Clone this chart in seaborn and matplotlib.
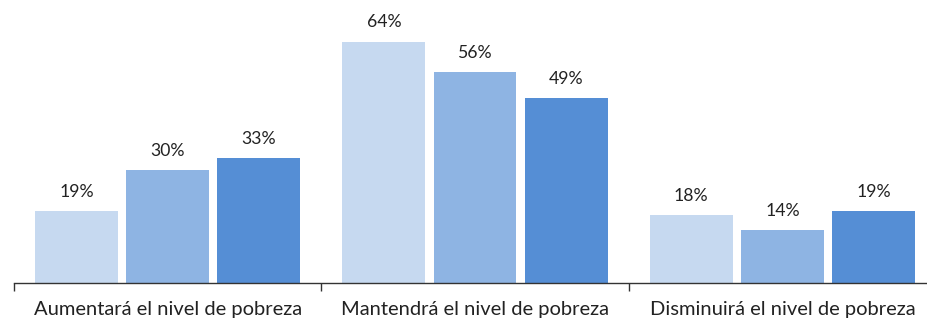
import pandas as pd
import matplotlib.pyplot as plt
import seaborn as sns

# datos del gráfico
categorias = ["Aumentará el nivel de pobreza", "Mantendrá el nivel de pobreza", "Disminuirá el nivel de pobreza"]
series = ["Serie 1", "Serie 2", "Serie 3"]
valores_s1 = [19, 64, 18]
valores_s2 = [30, 56, 14]
valores_s3 = [33, 49, 19]
colores = ["#C6D9F0", "#8EB4E3", "#558ED5"]

df = pd.DataFrame({
    "categoria": categorias * 3,
    "serie": [series[0]] * 3 + [series[1]] * 3 + [series[2]] * 3,
    "valor": valores_s1 + valores_s2 + valores_s3,
})

sns.set_theme(style="white")
plt.rcParams['font.family'] = ['Lato', 'DejaVu Sans']

fig = plt.figure(figsize=(9.28, 3.21), dpi=100)
# el eje se extiende un poco más allá del borde derecho, como en el original
ax = fig.add_axes([14 / 928, 38 / 321, 922 / 928, 1 - 38 / 321])

sns.barplot(data=df, x="categoria", y="valor", hue="serie", order=categorias,
            palette=colores, width=0.89, gap=0.09, legend=False, ax=ax,
            edgecolor="none", saturation=1)

for cont in ax.containers:
    ax.bar_label(cont, labels=[f"{v:.0f}%" for v in cont.datavalues],
                 padding=8, fontsize=12.7, color="#222222")

ax.set_ylim(0, 75)
ax.set_xlim(-0.5, 2.5)
ax.set_yticks([])
ax.set_xlabel("")
ax.set_ylabel("")
for s in ["top", "right", "left"]:
    ax.spines[s].set_visible(False)
ax.spines["bottom"].set_color("#333333")
ax.spines["bottom"].set_linewidth(1)

ax.set_xticks([-0.5, 0.5, 1.5, 2.5], minor=True)
ax.tick_params(axis="x", which="minor", length=6, width=1, color="#333333", bottom=True)
ax.tick_params(axis="x", which="major", length=0, pad=13, labelsize=14.5, labelcolor="#222222")

fig.savefig("out.png", dpi=100)
